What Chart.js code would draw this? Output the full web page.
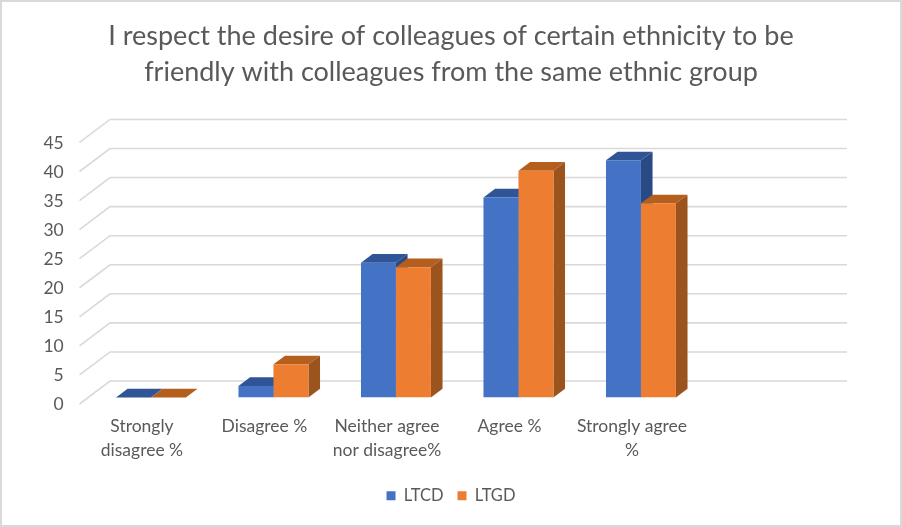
<!DOCTYPE html>
<html><head><meta charset="utf-8">
<style>html,body{margin:0;padding:0;background:#fff}canvas{display:block}</style>
<script src="https://cdn.jsdelivr.net/npm/chart.js@4"></script>
</head><body><canvas id="c" width="902" height="527"></canvas>
<script>
const titleLines = ["I respect the desire of colleagues of certain ethnicity to be","friendly with colleagues from the same ethnic group"];
const categories = [["Strongly","disagree %"],"Disagree %",["Neither agree","nor disagree%"],"Agree %",["Strongly agree","%"],""];
const ltcd = [0,2,23.2,34.4,40.8,null];
const ltgd = [0,5.7,22.4,39,33.4,null];
const yMin = 0, yMax = 45, yStep = 5;
const FONT = "Lato, 'Open Sans', sans-serif";
const TEXT = "#595959";
const DX = 11.6, DY = 8.7;
const faces = [{top:"#2F5597",side:"#2A4A86"},{top:"#B45F1E",side:"#9C541E"}];
const depth3d = {
  id:"depth3d",
  beforeDatasetsDraw(chart){
    const ctx = chart.ctx, y = chart.scales.y;
    ctx.save();
    ctx.strokeStyle = "#D9D9D9"; ctx.lineWidth = 1.6;
    y.ticks.forEach(t=>{
      const p = y.getPixelForValue(t.value);
      ctx.beginPath();
      ctx.moveTo(79.5,p+6.5); ctx.lineTo(110,p-16.5); ctx.lineTo(847,p-16.5);
      ctx.stroke();
    });
    const poly = (pts,c)=>{ctx.fillStyle=c;ctx.beginPath();pts.forEach((q,i)=>i?ctx.lineTo(q[0],q[1]):ctx.moveTo(q[0],q[1]));ctx.closePath();ctx.fill();};
    chart.data.datasets.forEach((ds,d)=>{
      chart.getDatasetMeta(d).data.forEach((b,i)=>{
        if(ds.data[i]===null) return;
        const l=b.x-b.width/2,r=b.x+b.width/2,t=b.y,bt=b.base;
        poly([[l,t],[r,t],[r+DX,t-DY],[l+DX,t-DY]],faces[d].top);
        poly([[r,t],[r+DX,t-DY],[r+DX,bt-DY],[r,bt]],faces[d].side);
      });
    });
    ctx.restore();
  },
  afterDraw(chart){
    const ctx=chart.ctx;
    ctx.save();ctx.strokeStyle="#D9D9D9";ctx.lineWidth=2;
    ctx.strokeRect(1,1,chart.width-2,chart.height-2);ctx.restore();
  }
};
new Chart(document.getElementById("c"),{
  type:"bar",
  data:{labels:categories,datasets:[
    {label:"LTCD",data:ltcd,backgroundColor:"#4472C4",borderWidth:0,yAxisID:"y"},
    {label:"LTGD",data:ltgd,backgroundColor:"#ED7D31",borderWidth:0,yAxisID:"y"}
  ]},
  plugins:[depth3d],
  options:{
    responsive:false,animation:false,
    layout:{padding:{left:0,right:0,top:0,bottom:13}},
    datasets:{bar:{categoryPercentage:0.571,barPercentage:1}},
    plugins:{
      tooltip:{enabled:false},
      title:{display:true,text:titleLines,color:TEXT,font:{family:FONT,size:27,weight:"normal",lineHeight:1.36},padding:{top:17.5,bottom:45}},
      legend:{position:"bottom",labels:{color:TEXT,font:{family:FONT,size:16.5},boxWidth:9,boxHeight:9,padding:14}}
    },
    scales:{
      x:{grid:{display:false},border:{display:false},
        ticks:{color:TEXT,font:{family:FONT,size:17.5,lineHeight:1.37},padding:8.5,labelOffset:-9,maxRotation:0,autoSkip:false},
        afterFit(s){s.height=76;}},
      y:{min:yMin,max:yMax,grid:{display:false,drawTicks:false},border:{display:false},
        ticks:{stepSize:yStep,color:TEXT,font:{family:FONT,size:17.5},padding:26,labelOffset:7},
        afterFit(s){s.width=89.7;}},
      pad:{position:"right",display:true,grid:{display:false,drawTicks:false},border:{display:false},
        ticks:{display:false},afterFit(s){s.width=77.3;}}
    }
  }
});
</script></body></html>
